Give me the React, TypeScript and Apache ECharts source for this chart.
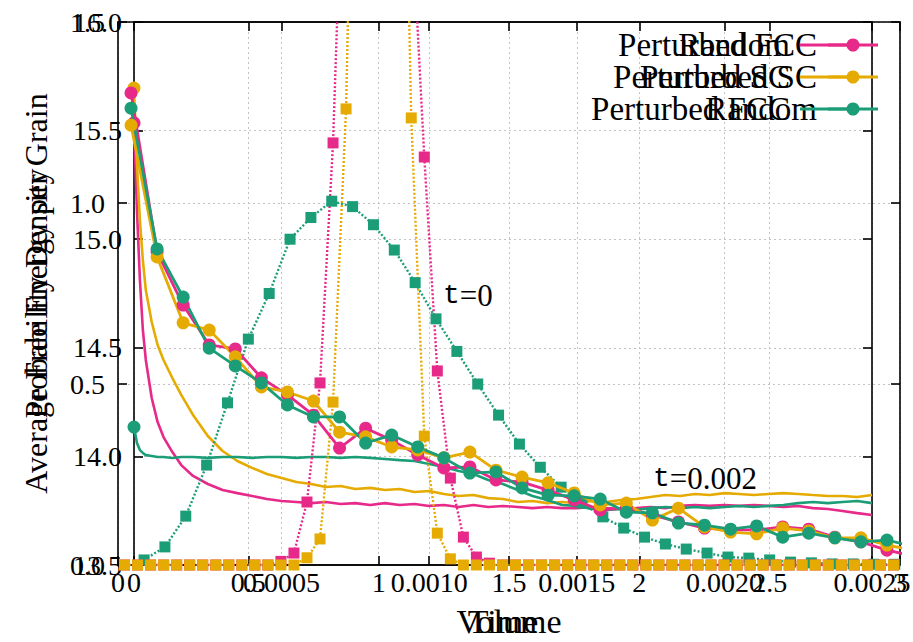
import React, { useEffect, useRef } from "react";
import * as echarts from "echarts";

const PINK = "#e7298a";
const ORANGE = "#e6ab02";
const GREEN = "#1b9e77";
const SERIF = "'Liberation Serif', 'Times New Roman', serif";
const MONO = "'Liberation Mono', 'DejaVu Sans Mono', monospace";

// ---------- Figure 1: average free energy per grain vs time ----------
const E_TIME = [
  0, 0.00001, 0.00002, 0.00003, 0.00004, 0.00006, 0.00008, 0.0001, 0.00013, 0.00016,
  0.0002, 0.00025, 0.0003, 0.00035, 0.0004, 0.00045, 0.0005, 0.00055, 0.0006, 0.00065,
  0.0007, 0.00075, 0.0008, 0.00085, 0.0009, 0.00095, 0.001, 0.00105, 0.0011, 0.00115,
  0.0012, 0.00125, 0.0013, 0.00135, 0.0014, 0.00145, 0.0015, 0.00155, 0.0016, 0.00165,
  0.0017, 0.00175, 0.0018, 0.00185, 0.0019, 0.00195, 0.002, 0.00205, 0.0021, 0.00215,
  0.0022, 0.00225, 0.0023, 0.00235, 0.0024, 0.00245, 0.0025,
];
const E_RANDOM = [
  15.535, 15.134, 14.812, 14.582, 14.444, 14.269, 14.158, 14.089, 14.02, 13.96,
  13.91, 13.873, 13.845, 13.831, 13.818, 13.804, 13.795, 13.79, 13.785, 13.79,
  13.781, 13.785, 13.776, 13.785, 13.776, 13.781, 13.772, 13.776, 13.767, 13.776,
  13.767, 13.772, 13.767, 13.762, 13.767, 13.762, 13.762, 13.767, 13.762, 13.758,
  13.762, 13.767, 13.762, 13.772, 13.776, 13.772, 13.776, 13.772, 13.776, 13.772,
  13.767, 13.772, 13.762, 13.758, 13.749, 13.739, 13.73,
];
const E_SC = [
  15.696, 15.342, 15.088, 14.904, 14.766, 14.619, 14.513, 14.444, 14.361, 14.283,
  14.191, 14.094, 14.025, 13.979, 13.947, 13.919, 13.901, 13.882, 13.873, 13.859,
  13.864, 13.85, 13.855, 13.845, 13.85, 13.836, 13.841, 13.827, 13.818, 13.822,
  13.808, 13.804, 13.79, 13.795, 13.785, 13.79, 13.785, 13.795, 13.79, 13.799,
  13.804, 13.813, 13.822, 13.818, 13.827, 13.822, 13.831, 13.827, 13.822, 13.827,
  13.831, 13.827, 13.822, 13.818, 13.818, 13.813, 13.822,
];
const E_FCC = [
  14.135, 14.062, 14.029, 14.016, 14.006, 14.002, 13.997, 13.997, 13.993, 13.997,
  13.997, 13.993, 13.997, 13.997, 13.993, 13.997, 13.997, 13.993, 13.997, 13.997,
  13.993, 13.997, 13.993, 13.988, 13.983, 13.979, 13.965, 13.951, 13.933, 13.919,
  13.891, 13.873, 13.845, 13.818, 13.799, 13.776, 13.772, 13.758, 13.753, 13.758,
  13.753, 13.762, 13.767, 13.762, 13.767, 13.762, 13.767, 13.772, 13.767, 13.772,
  13.776, 13.785, 13.79, 13.785, 13.79, 13.795, 13.785,
];

// ---------- Figure 2: probability density vs (normalised) volume ----------
const VOL_NARROW = [
  0.025, 0.075, 0.125, 0.175, 0.225, 0.275, 0.325, 0.375, 0.425, 0.475,
  0.525, 0.575, 0.625, 0.675, 0.725, 0.775, 0.825, 0.875, 0.925, 0.975,
  1.025, 1.075, 1.125, 1.175, 1.225, 1.275, 1.325, 1.375, 1.425, 1.475,
  1.525, 1.575, 1.625, 1.675, 1.725, 1.775, 1.825, 1.875, 1.925, 1.975,
  2.025, 2.075, 2.125, 2.175, 2.225, 2.275, 2.325, 2.375, 2.425, 2.475,
  2.525, 2.575, 2.625, 2.675, 2.725, 2.775, 2.825, 2.875, 2.925, 2.975,
];
const PINK_T0 = [
  0, 0, 0, 0, 0, 0, 0, 0, 0, 0,
  0, 0, 0.01, 0.033, 0.174, 0.503, 1.166, 2.25, 2.9, 3.2,
  3.2, 2.8, 1.82, 1.127, 0.536, 0.24, 0.077, 0.022, 0.005, 0,
  0, 0, 0, 0, 0, 0, 0, 0, 0, 0,
  0, 0, 0, 0, 0, 0, 0, 0, 0, 0,
  0, 0, 0, 0, 0, 0, 0, 0, 0, 0,
];
const ORANGE_T0 = [
  0, 0, 0, 0, 0, 0, 0, 0, 0, 0,
  0, 0, 0, 0, 0.02, 0.072, 0.45, 1.26, 3.0, 3.6,
  3.7, 2.96, 1.235, 0.356, 0.088, 0.017, 0, 0, 0, 0,
  0, 0, 0, 0, 0, 0, 0, 0, 0, 0,
  0, 0, 0, 0, 0, 0, 0, 0, 0, 0,
  0, 0, 0, 0, 0, 0, 0, 0, 0, 0,
];
const VOL_WIDE = [
  0.1, 0.18, 0.26, 0.34, 0.42, 0.5, 0.58, 0.66, 0.74, 0.82,
  0.9, 0.98, 1.06, 1.14, 1.22, 1.3, 1.38, 1.46, 1.54, 1.62,
  1.7, 1.78, 1.86, 1.94, 2.02, 2.1, 2.18, 2.26, 2.34, 2.42,
  2.5, 2.58, 2.66, 2.74, 2.82, 2.9, 2.98,
];
const GREEN_T0 = [
  0.014, 0.05, 0.135, 0.276, 0.448, 0.624, 0.75, 0.9, 0.96, 1.005,
  0.99, 0.94, 0.87, 0.78, 0.68, 0.59, 0.5, 0.414, 0.334, 0.27,
  0.215, 0.171, 0.133, 0.102, 0.077, 0.058, 0.044, 0.033, 0.022, 0.019,
  0.014, 0.008, 0.006, 0.003, 0.003, 0.002, 0.002,
];
const VOL_T002 = [
  0.05, 0.15, 0.25, 0.35, 0.45, 0.55, 0.65, 0.75, 0.85, 0.95,
  1.05, 1.15, 1.25, 1.35, 1.45, 1.55, 1.65, 1.75, 1.85, 1.95,
  2.05, 2.15, 2.25, 2.35, 2.45, 2.55, 2.65, 2.75, 2.85, 2.95, 3.05,
];
const PINK_T002 = [
  1.304, 0.865, 0.718, 0.608, 0.597, 0.517, 0.47, 0.414, 0.323, 0.378,
  0.345, 0.304, 0.268, 0.271, 0.235, 0.229, 0.207, 0.18, 0.152, 0.157,
  0.138, 0.119, 0.102, 0.097, 0.097, 0.105, 0.099, 0.077, 0.064, 0.041, 0.025,
];
const ORANGE_T002 = [
  1.215, 0.851, 0.669, 0.649, 0.575, 0.492, 0.478, 0.453, 0.367, 0.354,
  0.326, 0.318, 0.296, 0.312, 0.262, 0.243, 0.227, 0.199, 0.166, 0.171,
  0.124, 0.157, 0.105, 0.091, 0.086, 0.102, 0.094, 0.075, 0.075, 0.055, 0.041,
];
const GREEN_T002 = [
  1.262, 0.873, 0.74, 0.599, 0.55, 0.503, 0.442, 0.409, 0.409, 0.337,
  0.359, 0.326, 0.296, 0.254, 0.257, 0.213, 0.193, 0.191, 0.182, 0.146,
  0.144, 0.116, 0.11, 0.099, 0.108, 0.077, 0.088, 0.075, 0.064, 0.069, 0.052,
];

// legends of the two overlaid figures
const LEGEND_VOLUME = [
  { name: "Perturbed FCC", color: PINK },
  { name: "Perturbed SC", color: ORANGE },
  { name: "Random", color: GREEN },
];
const LEGEND_ENERGY = [
  { name: "Random", color: PINK },
  { name: "Perturbed SC", color: ORANGE },
  { name: "Perturbed FCC", color: GREEN },
];

const zip = (xs: number[], ys: number[]) => xs.map((x, i) => [x, ys[i]]);

const gridLine = { show: true, lineStyle: { color: "#c2c2c2", type: [2, 3] as any, width: 1 } };
const axisLine = { show: true, onZero: false, lineStyle: { color: "#000", width: 1.6 } };
const tick = { show: true, inside: true, length: 9, lineStyle: { color: "#000", width: 1.6 } };
const lbl = { color: "#000", fontFamily: SERIF, fontSize: 28 };
const xNameStyle = { color: "#000", fontFamily: SERIF, fontSize: 34 };
const yNameStyle = { color: "#000", fontFamily: SERIF, fontSize: 32 };

function buildOption() {
  const energySeries = [
    { name: "E Random", data: zip(E_TIME, E_RANDOM), color: PINK },
    { name: "E Perturbed SC", data: zip(E_TIME, E_SC), color: ORANGE },
    { name: "E Perturbed FCC", data: zip(E_TIME, E_FCC), color: GREEN },
  ].map((s) => ({
    type: "line",
    name: s.name,
    xAxisIndex: 0,
    yAxisIndex: 0,
    data: s.data,
    symbol: "circle",
    symbolSize: (_v: any, p: any) => (p.dataIndex === 0 ? 13 : 0),
    itemStyle: { color: s.color },
    lineStyle: { color: s.color, width: 2.6 },
    silent: true,
    z: 2,
  }));

  const t0Series = [
    { name: "Random t=0", data: zip(VOL_WIDE, GREEN_T0), color: GREEN },
    { name: "Perturbed FCC t=0", data: zip(VOL_NARROW, PINK_T0), color: PINK },
    { name: "Perturbed SC t=0", data: zip(VOL_NARROW, ORANGE_T0), color: ORANGE },
  ].map((s) => ({
    type: "line",
    name: s.name,
    xAxisIndex: 2,
    yAxisIndex: 2,
    data: s.data,
    symbol: "rect",
    symbolSize: 11,
    clip: true,
    itemStyle: { color: s.color },
    lineStyle: { color: s.color, width: 2.4, type: [2, 2] as any },
    silent: true,
    z: 3,
  }));

  const t002Series = [
    { name: "Perturbed FCC t=0.002", data: zip(VOL_T002, PINK_T002), color: PINK },
    { name: "Perturbed SC t=0.002", data: zip(VOL_T002, ORANGE_T002), color: ORANGE },
    { name: "Random t=0.002", data: zip(VOL_T002, GREEN_T002), color: GREEN },
  ].map((s) => ({
    type: "line",
    name: s.name,
    xAxisIndex: 2,
    yAxisIndex: 2,
    data: s.data,
    symbol: "circle",
    symbolSize: 13,
    clip: true,
    itemStyle: { color: s.color },
    lineStyle: { color: s.color, width: 2.8 },
    silent: true,
    z: 4,
  }));

  const rowsY = [45, 77, 109];
  const graphic: any[] = [];
  LEGEND_ENERGY.forEach((it, i) => {
    graphic.push({
      type: "text",
      x: 790,
      y: rowsY[i],
      z: 10,
      style: { text: it.name, fontFamily: SERIF, fontSize: 33, fill: "#000", align: "right", verticalAlign: "middle" },
    });
    graphic.push({
      type: "line",
      z: 11,
      shape: { x1: 800, y1: rowsY[i], x2: 850, y2: rowsY[i] },
      style: { stroke: it.color, lineWidth: 2.8 },
    });
  });
  LEGEND_VOLUME.forEach((it, i) => {
    graphic.push({
      type: "text",
      x: 817,
      y: rowsY[i],
      z: 10,
      style: { text: it.name, fontFamily: SERIF, fontSize: 33, fill: "#000", align: "right", verticalAlign: "middle" },
    });
    graphic.push({
      type: "line",
      z: 11,
      shape: { x1: 828, y1: rowsY[i], x2: 878, y2: rowsY[i] },
      style: { stroke: it.color, lineWidth: 2.8 },
    });
    graphic.push({
      type: "circle",
      z: 12,
      shape: { cx: 853, cy: rowsY[i], r: 6.5 },
      style: { fill: it.color },
    });
  });
  const tRich = {
    m: { fontFamily: MONO, fontSize: 28, fill: "#000" },
    s: { fontFamily: SERIF, fontSize: 31, fill: "#000" },
  };
  graphic.push({
    type: "text",
    x: 443,
    y: 295,
    z: 10,
    style: { text: "{m|t}{s|=0}", rich: tRich, verticalAlign: "middle", align: "left" },
  });
  graphic.push({
    type: "text",
    x: 653,
    y: 478,
    z: 10,
    style: { text: "{m|t}{s|=0.002}", rich: tRich, verticalAlign: "middle", align: "left" },
  });

  return {
    animation: false,
    backgroundColor: "#fff",
    grid: [
      { left: 134, top: 22, width: 738, height: 543, containLabel: false, outerBoundsMode: "none" },
      { left: 118, top: 22, width: 782, height: 543, containLabel: false, outerBoundsMode: "none" },
    ],
    xAxis: [
      {
        type: "value", gridIndex: 0, position: "bottom", min: 0, max: 0.0025, interval: 0.0005,
        axisLine, axisTick: tick, splitLine: gridLine,
        axisLabel: { ...lbl, margin: 3, formatter: (v: number) => (v === 0 ? "0" : v.toFixed(4)) },
        name: "Time", nameLocation: "middle", nameGap: 39, nameTextStyle: xNameStyle,
      },
      {
        type: "value", gridIndex: 0, position: "top", min: 0, max: 0.0025, interval: 0.0005,
        axisLine, axisTick: tick, splitLine: { show: false }, axisLabel: { show: false },
      },
      {
        type: "value", gridIndex: 1, position: "bottom", min: 0, max: 3, interval: 0.5,
        axisLine, axisTick: tick, splitLine: gridLine,
        axisLabel: { ...lbl, margin: 3, formatter: (v: number) => String(v) },
        name: "Volume", nameLocation: "middle", nameGap: 39, nameTextStyle: xNameStyle,
      },
      {
        type: "value", gridIndex: 1, position: "top", min: 0, max: 3, interval: 0.5,
        axisLine, axisTick: tick, splitLine: { show: false }, axisLabel: { show: false },
      },
    ],
    yAxis: [
      {
        type: "value", gridIndex: 0, position: "left", min: 13.5, max: 16, interval: 0.5,
        axisLine, axisTick: tick, splitLine: gridLine,
        axisLabel: { ...lbl, margin: 12, formatter: (v: number) => v.toFixed(1) },
        name: "Average Free Energy per Grain", nameLocation: "middle", nameGap: 82, nameTextStyle: yNameStyle,
      },
      {
        type: "value", gridIndex: 0, position: "right", min: 13.5, max: 16, interval: 0.5,
        axisLine, axisTick: tick, splitLine: { show: false }, axisLabel: { show: false },
      },
      {
        type: "value", gridIndex: 1, position: "left", min: 0, max: 1.5, interval: 0.5,
        axisLine, axisTick: tick, splitLine: gridLine,
        axisLabel: { ...lbl, margin: 13, formatter: (v: number) => v.toFixed(1) },
        name: "Probability Density", nameLocation: "middle", nameGap: 66, nameTextStyle: yNameStyle,
      },
      {
        type: "value", gridIndex: 1, position: "right", min: 0, max: 1.5, interval: 0.5,
        axisLine, axisTick: tick, splitLine: { show: false }, axisLabel: { show: false },
      },
    ],
    series: [...energySeries, ...t0Series, ...t002Series],
    graphic,
  };
}

export default function App() {
  const ref = useRef<HTMLDivElement>(null);
  useEffect(() => {
    if (!ref.current) return;
    const chart = echarts.init(ref.current, null, { renderer: "svg" });
    chart.setOption(buildOption() as any);
    return () => chart.dispose();
  }, []);
  return (
    <div
      ref={ref}
      style={{ position: "fixed", left: 0, top: 0, width: 913, height: 642, background: "#fff", overflow: "hidden" }}
    />
  );
}
